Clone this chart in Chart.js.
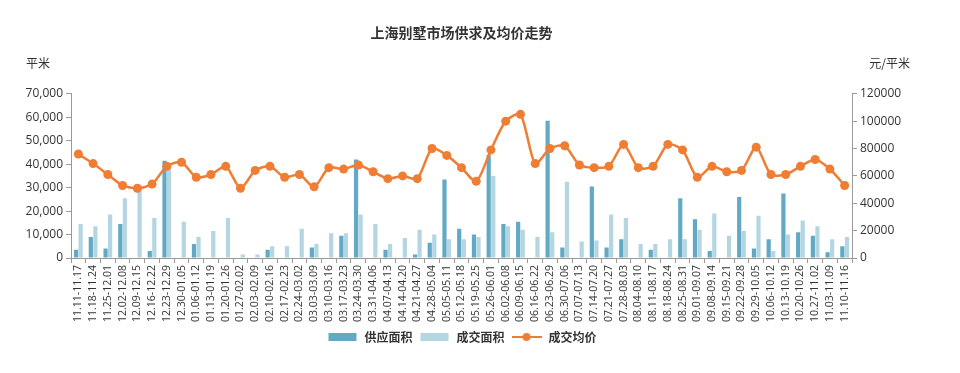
<!DOCTYPE html>
<html>
<head>
<meta charset="utf-8">
<script src="https://cdn.jsdelivr.net/npm/chart.js@4"></script>
<style>
  html, body { margin: 0; padding: 0; background: #fff; }
  #wrap { width: 960px; height: 373px; }
</style>
</head>
<body>
<div id="wrap"><canvas id="chart"></canvas></div>
<script>
const weeks = [
  '11.11-11.17', '11.18-11.24', '11.25-12.01', '12.02-12.08', '12.09-12.15', '12.16-12.22',
  '12.23-12.29', '12.30-01.05', '01.06-01.12', '01.13-01.19', '01.20-01.26', '01.27-02.02',
  '02.03-02.09', '02.10-02.16', '02.17-02.23', '02.24-03.02', '03.03-03.09', '03.10-03.16',
  '03.17-03.23', '03.24-03.30', '03.31-04.06', '04.07-04.13', '04.14-04.20', '04.21-04.27',
  '04.28-05.04', '05.05-05.11', '05.12-05.18', '05.19-05.25', '05.26-06.01', '06.02-06.08',
  '06.09-06.15', '06.16-06.22', '06.23-06.29', '06.30-07.06', '07.07-07.13', '07.14-07.20',
  '07.21-07.27', '07.28-08.03', '08.04-08.10', '08.11-08.17', '08.18-08.24', '08.25-08.31',
  '09.01-09.07', '09.08-09.14', '09.15-09.21', '09.22-09.28', '09.29-10.05', '10.06-10.12',
  '10.13-10.19', '10.20-10.26', '10.27-11.02', '11.03-11.09', '11.10-11.16'
];

// 供应面积 (平米)
const supplyArea = [
  3500, 9000, 4000, 14500, 0, 3000, 41500, 0, 6000, 0, 0, 0,
  0, 3500, 0, 0, 4500, 0, 9500, 42000, 0, 3500, 0, 1500,
  6500, 33500, 12500, 10000, 44000, 14500, 15500, 0, 58500, 4500, 0, 30500,
  4500, 8000, 0, 3500, 0, 25500, 16500, 3000, 0, 26000, 4000, 8000,
  27500, 11000, 9500, 2500, 5000
];

// 成交面积 (平米)
const dealArea = [
  14500, 13500, 18500, 25500, 31000, 17000, 40000, 15500, 9000, 11500, 17000, 1500,
  1500, 5000, 5000, 12500, 6000, 10500, 10500, 18500, 14500, 6000, 8500, 12000,
  10000, 8000, 8000, 9000, 35000, 13500, 12000, 9000, 11000, 32500, 7000, 7500,
  18500, 17000, 6000, 6000, 8000, 8000, 12000, 19000, 9500, 11500, 18000, 3000,
  10000, 16000, 13500, 8000, 9000
];

// 成交均价 (元/平米)
const avgPrice = [
  76000, 69000, 61000, 53000, 51000, 54000, 67000, 70000, 59000, 61000, 67000, 51000,
  64000, 67000, 59000, 61000, 52000, 66000, 65000, 68000, 63000, 58000, 60000, 58000,
  80000, 75000, 66000, 56000, 79000, 100000, 105000, 69000, 80000, 82000, 68000, 66000,
  67000, 83000, 66000, 67000, 83000, 79000, 59000, 67000, 63000, 64000, 81000, 61000,
  61000, 67000, 72000, 65000, 53000
];

const supplyColor = '#62a9c5';
const dealColor = '#b3d6e2';
const priceColor = '#ef7d33';
const textColor = '#333';
const axisColor = '#9a9a9a';

function legendSwatch(kind, color) {
  const c = document.createElement('canvas');
  c.width = 30;
  c.height = 10;
  const g = c.getContext('2d');
  if (kind === 'bar') {
    g.fillStyle = color;
    g.fillRect(1, 1, 28, 8);
  } else {
    g.strokeStyle = color;
    g.lineWidth = 2;
    g.beginPath();
    g.moveTo(0, 5);
    g.lineTo(30, 5);
    g.stroke();
    g.fillStyle = color;
    g.beginPath();
    g.arc(15, 5, 4, 0, Math.PI * 2);
    g.fill();
  }
  return c;
}

const unitLabels = {
  id: 'unitLabels',
  afterDraw(chart) {
    const ctx = chart.ctx;
    ctx.save();
    ctx.fillStyle = textColor;
    ctx.font = '12px "Noto Sans CJK SC"';
    ctx.textBaseline = 'middle';
    ctx.textAlign = 'left';
    ctx.fillText('平米', 26, 63);
    ctx.textAlign = 'right';
    ctx.fillText('元/平米', 910, 63);
    ctx.restore();
  }
};

const ctx = document.getElementById('chart').getContext('2d');
new Chart(ctx, {
  type: 'bar',
  data: {
    labels: weeks,
    datasets: [
      {
        label: '供应面积',
        data: supplyArea,
        backgroundColor: supplyColor,
        yAxisID: 'y',
        order: 2,
        categoryPercentage: 0.62,
        barPercentage: 0.92,
      },
      {
        label: '成交面积',
        data: dealArea,
        backgroundColor: dealColor,
        yAxisID: 'y',
        order: 2,
        categoryPercentage: 0.62,
        barPercentage: 0.92,
      },
      {
        type: 'line',
        label: '成交均价',
        data: avgPrice,
        yAxisID: 'y1',
        order: 0,
        borderColor: priceColor,
        backgroundColor: priceColor,
        borderWidth: 2.5,
        pointRadius: 4.5,
        pointBorderWidth: 0,
        tension: 0.25,
      },
    ],
  },
  options: {
    responsive: true,
    maintainAspectRatio: false,
    animation: false,
    layout: { padding: { left: 0, right: 0, top: 0, bottom: 20 } },
    plugins: {
      title: {
        display: true,
        fullSize: false,
        text: '上海别墅市场供求及均价走势',
        color: textColor,
        font: { family: '"Noto Sans CJK SC"', size: 14, weight: 'bold' },
        padding: { top: 24, bottom: 53 },
      },
      legend: {
        position: 'bottom',
        fullSize: false,
        labels: {
          color: textColor,
          font: { family: '"Noto Sans CJK SC"', size: 12, weight: 'bold' },
          usePointStyle: true,
          pointStyleWidth: 32,
          padding: 6,
          generateLabels: (chart) =>
            chart.data.datasets.map((ds, i) => ({
              text: ds.label,
              datasetIndex: i,
              fontColor: textColor,
              pointStyle: legendSwatch(ds.type === 'line' ? 'line' : 'bar', ds.borderColor || ds.backgroundColor),
              hidden: false,
            })),
        },
      },
      tooltip: { enabled: false },
    },
    scales: {
      x: {
        offset: true,
        grid: {
          display: true,
          drawOnChartArea: false,
          color: axisColor,
          tickLength: 5,
          offset: true,
        },
        border: { color: axisColor, width: 1 },
        ticks: {
          color: textColor,
          font: { family: '"Open Sans"', size: 10.5 },
          maxRotation: 90,
          minRotation: 90,
          autoSkip: false,
          padding: 2,
        },
        afterFit: (scale) => { scale.height = 67; },
      },
      y: {
        position: 'left',
        min: 0,
        max: 70000,
        grid: {
          display: true,
          drawOnChartArea: false,
          color: axisColor,
          tickLength: 5,
        },
        border: { color: axisColor, width: 1 },
        ticks: {
          stepSize: 10000,
          color: textColor,
          font: { family: '"Open Sans"', size: 12 },
          padding: 3,
          callback: (v) => v.toLocaleString('en-US'),
        },
        afterFit: (scale) => { scale.width = 71; },
      },
      y1: {
        position: 'right',
        min: 0,
        max: 120000,
        grid: {
          display: true,
          drawOnChartArea: false,
          color: axisColor,
          tickLength: 5,
        },
        border: { color: axisColor, width: 1 },
        ticks: {
          stepSize: 20000,
          color: textColor,
          font: { family: '"Open Sans"', size: 12 },
          padding: 3,
          callback: (v) => String(v),
        },
        afterFit: (scale) => { scale.width = 108; },
      },
    },
  },
  plugins: [unitLabels],
});
</script>
</body>
</html>
